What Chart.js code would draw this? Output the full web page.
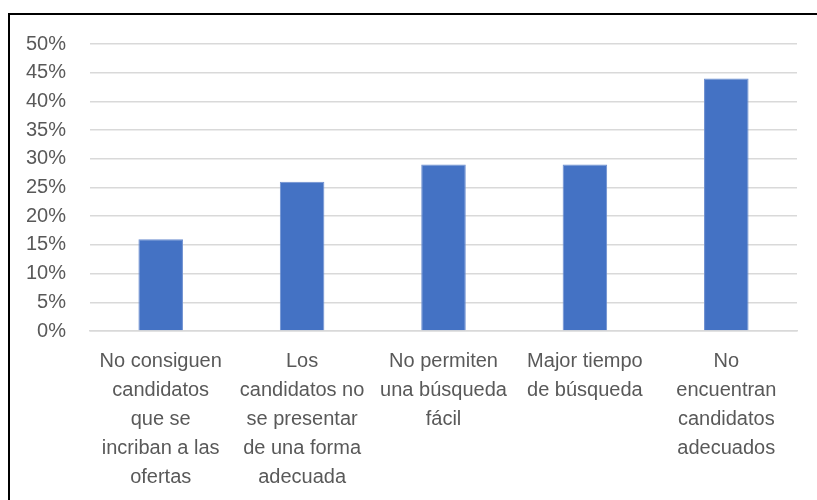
<!DOCTYPE html>
<html>
<head>
<meta charset="utf-8">
<script src="https://cdn.jsdelivr.net/npm/chart.js@4"></script>
<style>
    html, body { margin: 0; padding: 0; background: #fff; overflow: hidden; }
    #wrap { position: relative; width: 817px; height: 500px; }
    #frame {
        position: absolute; left: 8px; top: 13px;
        width: 900px; height: 600px;
        border: 2px solid #000; box-sizing: border-box;
        pointer-events: none;
    }
    canvas { position: absolute; left: 0; top: 0; }
</style>
</head>
<body>
<div id="wrap">
    <canvas id="chart" width="817" height="500"></canvas>
    <div id="frame"></div>
</div>
<script>
// Chart data
const categories = [
    ['No consiguen', 'candidatos', 'que se', 'incriban a las', 'ofertas'],
    ['Los', 'candidatos no', 'se presentar', 'de una forma', 'adecuada'],
    ['No permiten', 'una búsqueda', 'fácil'],
    ['Major tiempo', 'de búsqueda'],
    ['No', 'encuentran', 'candidatos', 'adecuados']
];
const values = [16, 26, 29, 29, 44];   // percent
const yMin = 0;
const yMax = 50;
const yStep = 5;

const textColor = '#595959';
const gridColor = '#d9d9d9';
const barColor = '#4472c4';

const ctx = document.getElementById('chart').getContext('2d');

new Chart(ctx, {
    type: 'bar',
    data: {
        labels: categories,
        datasets: [{
            data: values,
            backgroundColor: barColor,
            borderColor: '#6d8fd0',
            borderWidth: 1,
            categoryPercentage: 1,
            barPercentage: 0.315
        }]
    },
    options: {
        responsive: false,
        animation: false,
        devicePixelRatio: 1,
        layout: {
            padding: { left: 0, right: 20, top: 44, bottom: 0 }
        },
        plugins: {
            legend: { display: false },
            tooltip: { enabled: false }
        },
        scales: {
            x: {
                grid: { display: false, drawTicks: false },
                border: { display: true, color: gridColor, width: 1.5 },
                ticks: {
                    color: textColor,
                    padding: 16,
                    maxRotation: 0,
                    autoSkip: false,
                    font: { family: 'Liberation Sans, Arial, sans-serif', size: 20, lineHeight: 1.45 }
                },
                afterFit: (scale) => { scale.height = 169; }
            },
            y: {
                min: yMin,
                max: yMax,
                grid: { color: gridColor, lineWidth: 1.5, drawTicks: false },
                border: { display: false },
                ticks: {
                    stepSize: yStep,
                    color: textColor,
                    padding: 24,
                    font: { family: 'Liberation Sans, Arial, sans-serif', size: 20 },
                    callback: (v) => v + '%'
                },
                afterFit: (scale) => { scale.width = 90; }
            }
        }
    }
});
</script>
</body>
</html>
